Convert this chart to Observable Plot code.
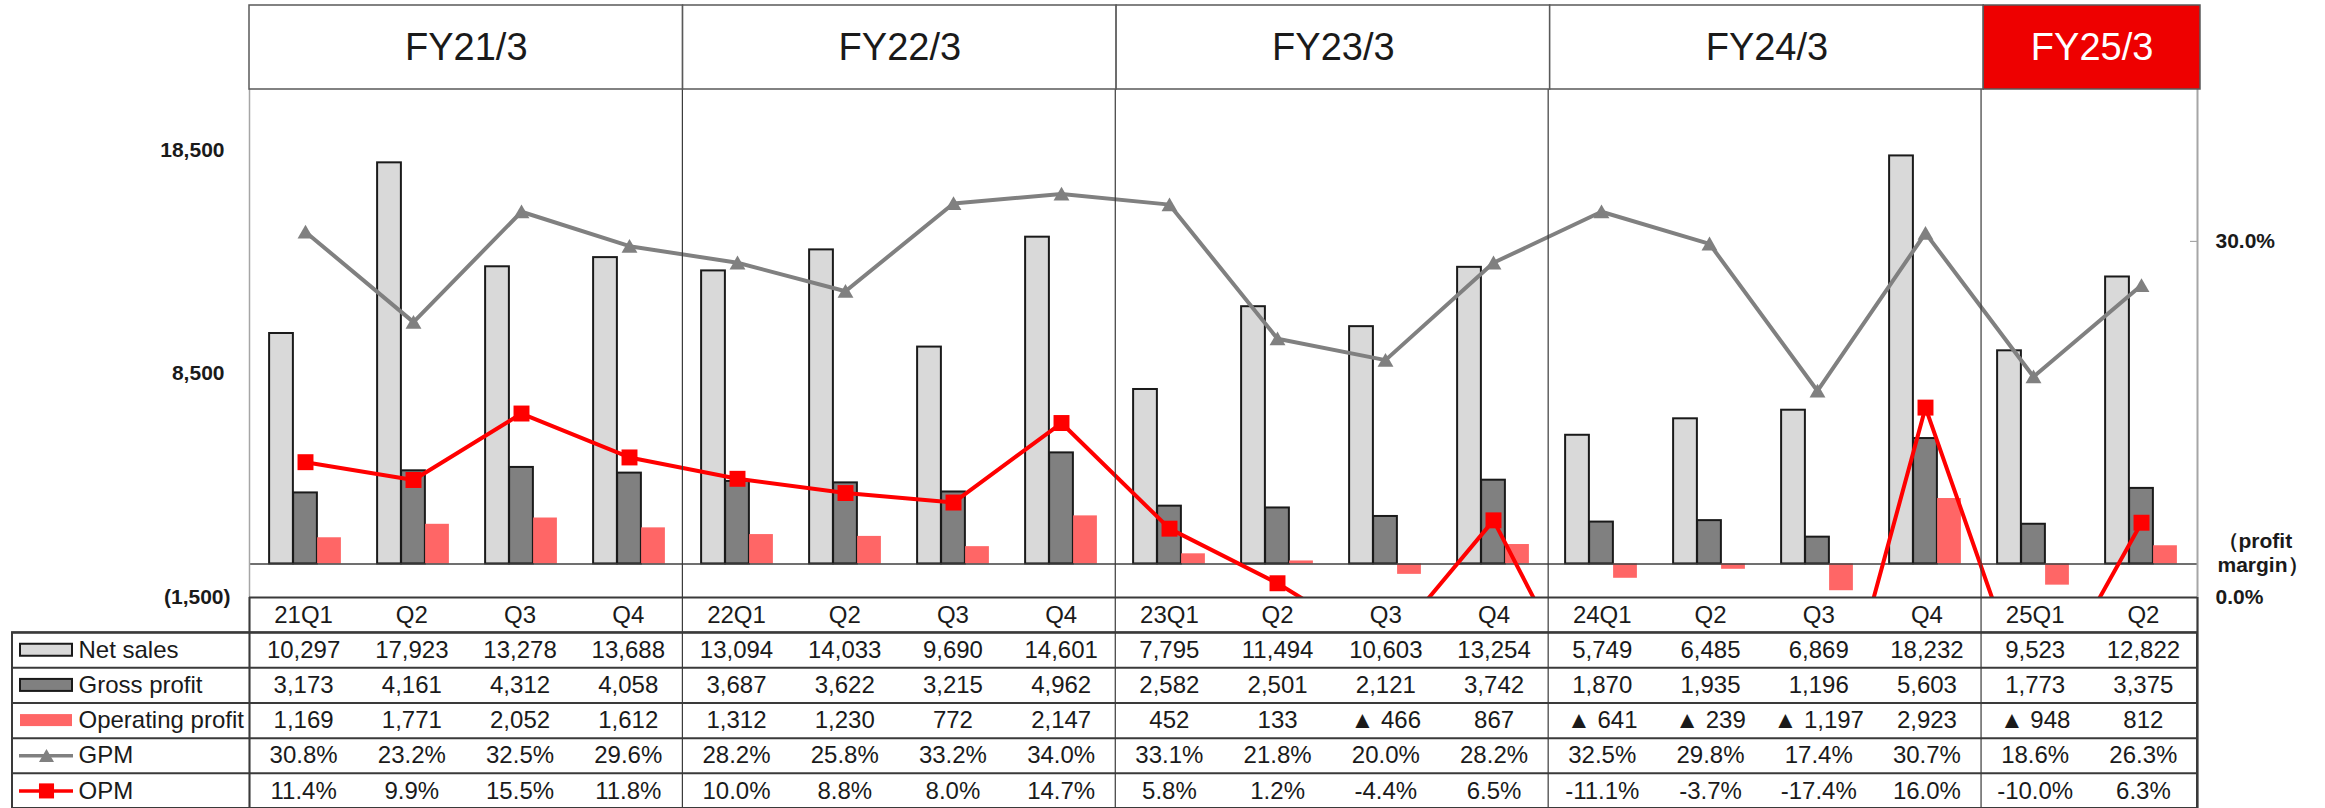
<!DOCTYPE html>
<html><head><meta charset="utf-8">
<script src="https://cdn.jsdelivr.net/npm/d3@7"></script>
<script src="https://cdn.jsdelivr.net/npm/@observablehq/plot@0.6"></script>
<style>
body{margin:0;background:#fff;}
#wrap{position:relative;width:2325px;height:808px;}
#wrap svg{position:absolute;left:0;top:0;}
</style></head><body><div id="wrap"></div>
<script>
// ---------- data ----------
const fiscalYears = ["FY21/3", "FY22/3", "FY23/3", "FY24/3", "FY25/3"];
const quartersPerYear = [4, 4, 4, 4, 2];
const quarterKeys = ["21Q1","21Q2","21Q3","21Q4","22Q1","22Q2","22Q3","22Q4","23Q1","23Q2","23Q3","23Q4","24Q1","24Q2","24Q3","24Q4","25Q1","25Q2"];
const quarterLabels = ["21Q1","Q2","Q3","Q4","22Q1","Q2","Q3","Q4","23Q1","Q2","Q3","Q4","24Q1","Q2","Q3","Q4","25Q1","Q2"];
const netSales = [10297,17923,13278,13688,13094,14033,9690,14601,7795,11494,10603,13254,5749,6485,6869,18232,9523,12822];
const grossProfit = [3173,4161,4312,4058,3687,3622,3215,4962,2582,2501,2121,3742,1870,1935,1196,5603,1773,3375];
const operatingProfit = [1169,1771,2052,1612,1312,1230,772,2147,452,133,-466,867,-641,-239,-1197,2923,-948,812];
const gpm = [30.8,23.2,32.5,29.6,28.2,25.8,33.2,34.0,33.1,21.8,20.0,28.2,32.5,29.8,17.4,30.7,18.6,26.3];
const opm = [11.4,9.9,15.5,11.8,10.0,8.8,8.0,14.7,5.8,1.2,-4.4,6.5,-11.1,-3.7,-17.4,16.0,-10.0,6.3];
const seriesNames = ["Net sales", "Gross profit", "Operating profit", "GPM", "OPM"];
const leftTicks = [-1500, 8500, 18500];
const rightTicks = [0, 30];
const leftDomain = [-1500, 21200];
const rightDomain = [0, 42.8];

// ---------- layout ----------
const W = 2325, H = 808;
const PL = 249, PR = 2197, PT = 89, PB = 597;
const nQ = quarterKeys.length;
const bandW = (PR - PL) / nQ;
const barW = 24;
const inset = (bandW - barW) / 2;
const font = '"Liberation Sans", Arial, Helvetica, sans-serif';
const ink = "#1a1a1a";
const grid = "#3a3a3a";
const tableFont = 24;

const pctToY = d3.scaleLinear().domain(rightDomain).range(leftDomain);
const rows = quarterKeys.map((k, i) => ({
  key: k, idx: i, label: quarterLabels[i],
  sales: netSales[i], gross: grossProfit[i], op: operatingProfit[i],
  gpmY: pctToY(gpm[i]), opmY: pctToY(opm[i])
}));

const fmtInt = d3.format(",");
const fmtPct = d => d3.format(".1f")(d).replace("\u2212", "-") + "%";
const fmtOp = d => d < 0 ? "\u25B2 " + fmtInt(-d) : fmtInt(d);

// ---------- chart ----------
const chart = Plot.plot({
  width: W, height: H,
  marginLeft: PL, marginRight: W - PR, marginTop: PT, marginBottom: H - PB,
  style: {background: "transparent", fontFamily: font, color: ink},
  x: {type: "band", domain: quarterKeys, padding: 0, axis: null},
  y: {domain: leftDomain, axis: null},
  marks: [
    Plot.barY(rows, {x: "key", y: "sales", fill: "#D9D9D9", stroke: ink, strokeWidth: 2, insetLeft: inset, insetRight: inset, dx: -barW}),
    Plot.barY(rows, {x: "key", y: "gross", fill: "#808080", stroke: ink, strokeWidth: 2, insetLeft: inset, insetRight: inset}),
    Plot.barY(rows, {x: "key", y: "op", fill: "#FF6666", insetLeft: inset, insetRight: inset, dx: barW}),
    Plot.ruleY([0], {stroke: "#404040", strokeWidth: 1.5}),
    Plot.ruleY([pctToY(30)], {insetLeft: PR - PL - 7, stroke: "#A6A6A6", strokeWidth: 1.2}),
    Plot.line(rows, {x: "key", y: "gpmY", stroke: "#808080", strokeWidth: 4, clip: true}),
    Plot.dot(rows, {x: "key", y: "gpmY", symbol: "triangle", r: 5.9, fill: "#808080", dy: 2, clip: true}),
    Plot.line(rows, {x: "key", y: "opmY", stroke: "#FF0000", strokeWidth: 4, clip: true}),
    Plot.dot(rows, {x: "key", y: "opmY", symbol: "square", r: 9, fill: "#FF0000", clip: true}),
    Plot.axisY(leftTicks.filter(d => d < 0), {anchor: "left", tickSize: 0, tickPadding: 19, tickFormat: d => `(${fmtInt(-d)})`, fontSize: 21, fontWeight: "bold"}),
    Plot.axisY(leftTicks.filter(d => d >= 0), {anchor: "left", tickSize: 0, tickPadding: 25, tickFormat: fmtInt, fontSize: 21, fontWeight: "bold"}),
    Plot.axisY(rightTicks.map(pctToY), {anchor: "right", tickSize: 0, tickPadding: 18, tickFormat: d => fmtPct(pctToY.invert(d)), fontSize: 21, fontWeight: "bold"}),
    Plot.text(["\uFF08profit\nmargin\uFF09"], {frameAnchor: "bottom-right", textAnchor: "start", dx: 20, dy: -45, lineAnchor: "middle", lineHeight: 1.15, fontSize: 21, fontWeight: "bold"})
  ]
});

// ---------- table & grid ----------
const cells = [];
const rowValues = [netSales.map(fmtInt), grossProfit.map(fmtInt), operatingProfit.map(fmtOp), gpm.map(fmtPct), opm.map(fmtPct)];
rowValues.forEach((vals, r) => vals.forEach((t, i) => cells.push({col: i, row: r + 1, text: t})));
const legend = seriesNames.map((name, r) => ({name, row: r + 1}));
let acc = 0;
const fy = fiscalYears.map((name, i) => { const s = acc; acc += quartersPerYear[i]; return {name, start: s, end: acc, current: i === fiscalYears.length - 1}; });
const boundaries = fy.slice(1).map(d => d.start);
const swInsetY = (211 / 6 - 12) / 2;
const swL = 20 - 12, swR = PR - 72;

const table = Plot.plot({
  width: W, height: H,
  marginLeft: 12, marginRight: W - PR, marginTop: PT, marginBottom: 0,
  style: {background: "transparent", fontFamily: font, color: ink},
  x: {type: "linear", domain: [0, nQ], range: [PL, PR], axis: null},
  y: {type: "linear", domain: [0, 6], range: [PB, H], axis: null},
  marks: [
    Plot.ruleX([0], {stroke: "#A6A6A6", strokeWidth: 1.5}),
    Plot.ruleX([nQ], {stroke: "#A6A6A6", strokeWidth: 2}),
    Plot.ruleX(boundaries, {stroke: grid, strokeWidth: 1.2}),
    Plot.ruleX([0, nQ], {y1: 0, y2: 6, stroke: grid, strokeWidth: 2}),
    Plot.ruleY([0], {x1: 0, x2: nQ, stroke: grid, strokeWidth: 2}),
    Plot.ruleY([1, 2, 3, 4, 5], {stroke: grid, strokeWidth: 2}),
    Plot.rect([{}], {y1: 1, y2: 6, fill: "none", stroke: grid, strokeWidth: 2}),
    Plot.text(rows, {x: d => d.idx + 0.5, y: 0.5, text: "label", fontSize: tableFont, fill: ink}),
    Plot.text(cells, {x: d => d.col + 0.5, y: d => d.row + 0.5, text: "text", fontSize: tableFont, fill: ink}),
    Plot.text(legend, {y: d => d.row + 0.5, text: "name", frameAnchor: "left", textAnchor: "start", dx: 66, fontSize: tableFont, fill: ink}),
    Plot.rect([{}], {y1: 1, y2: 2, insetTop: swInsetY, insetBottom: swInsetY, insetLeft: swL, insetRight: swR, fill: "#D9D9D9", stroke: ink, strokeWidth: 2}),
    Plot.rect([{}], {y1: 2, y2: 3, insetTop: swInsetY, insetBottom: swInsetY, insetLeft: swL, insetRight: swR, fill: "#808080", stroke: ink, strokeWidth: 2}),
    Plot.rect([{}], {y1: 3, y2: 4, insetTop: swInsetY, insetBottom: swInsetY, insetLeft: swL, insetRight: swR, fill: "#FF6666"}),
    Plot.ruleY([4.5], {insetLeft: 7, insetRight: PR - 73, stroke: "#808080", strokeWidth: 3.5}),
    Plot.dot([4.5], {y: d => d, frameAnchor: "left", dx: 34, dy: 2, symbol: "triangle", r: 5.6, fill: "#808080"}),
    Plot.ruleY([5.5], {insetLeft: 7, insetRight: PR - 73, stroke: "#FF0000", strokeWidth: 3.5}),
    Plot.dot([5.5], {y: d => d, frameAnchor: "left", dx: 34, symbol: "square", r: 8.5, fill: "#FF0000"})
  ]
});

// ---------- header ----------
const header = Plot.plot({
  width: W, height: 90,
  marginLeft: PL, marginRight: W - PR - 3, marginTop: 5, marginBottom: 1,
  style: {background: "transparent", fontFamily: font},
  x: {type: "linear", domain: [0, nQ], axis: null},
  marks: [
    Plot.rect(fy, {x1: "start", x2: "end", fill: d => d.current ? "#EE0000" : "#FFFFFF", stroke: "#595959", strokeWidth: 1.5}),
    Plot.text(fy, {x: d => (d.start + d.end) / 2, text: "name", frameAnchor: "middle", fill: d => d.current ? "#FFFFFF" : ink, fontSize: 38})
  ]
});

const wrap = document.getElementById("wrap");
wrap.appendChild(chart);
wrap.appendChild(table);
wrap.appendChild(header);
</script></body></html>
